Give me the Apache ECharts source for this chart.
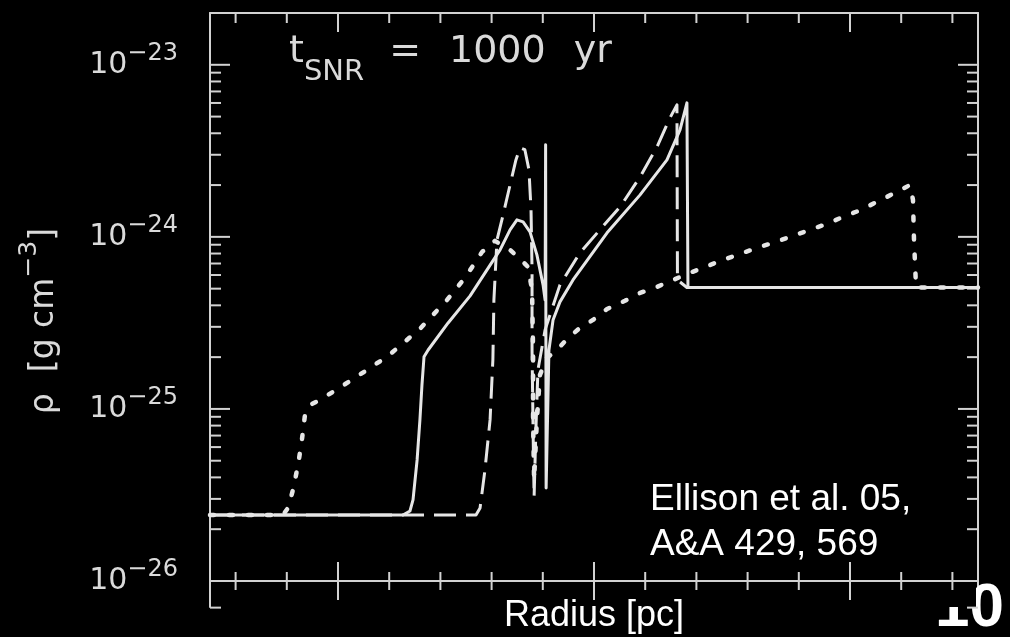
<!DOCTYPE html>
<html>
<head>
<meta charset="utf-8">
<script src="https://cdn.jsdelivr.net/npm/echarts@6/dist/echarts.min.js"></script>
<style>
html,body{margin:0;padding:0;background:#000;}
#chart{width:1010px;height:637px;}
</style>
</head>
<body>
<div id="chart"></div>
<script>
// ---- axis ranges and tick values ----
const X_MIN = 2.5, X_MAX = 5.5;
const Y_MIN = 7.06e-27, Y_MAX = 2.0e-23;
const baseLineValue = 1e-26;
const xMajorTicks = [3, 4, 5];
const xMinorTicks = [2.6, 2.8, 3.2, 3.4, 3.6, 3.8, 4.2, 4.4, 4.6, 4.8, 5.2, 5.4];
const yLabelTicks = [1e-26, 1e-25, 1e-24, 1e-23];
const yMajorTicks = [1e-25, 1e-24, 1e-23];
const yMinorTicks = [7e-27, 1e-26,
  2e-26, 3e-26, 4e-26, 5e-26, 6e-26, 7e-26, 8e-26, 9e-26,
  2e-25, 3e-25, 4e-25, 5e-25, 6e-25, 7e-25, 8e-25, 9e-25,
  2e-24, 3e-24, 4e-24, 5e-24, 6e-24, 7e-24, 8e-24, 9e-24];

// ---- dotted curve ----
const dottedRadius = [2.5, 2.785, 2.805, 2.824, 2.844, 2.859, 2.871, 2.891, 2.930, 3.066, 3.195, 3.320, 3.426, 3.496, 3.563, 3.613, 3.672, 3.711, 3.742, 3.758, 3.762, 3.762, 3.766, 3.777, 3.789, 3.816, 3.855, 3.895, 3.945, 3.996, 4.051, 4.121, 4.180, 4.246, 4.309, 4.375, 4.434, 4.504, 4.570, 4.637, 4.711, 4.777, 4.844, 4.910, 4.973, 5.043, 5.105, 5.168, 5.234, 5.246, 5.25, 5.258, 5.5];
const dottedDensity = [2.42e-26, 2.42e-26, 2.66e-26, 3.38e-26, 4.72e-26, 6.61e-26, 9.23e-26, 1.055e-25, 1.128e-25, 1.514e-25, 2.03e-25, 2.92e-25, 4.30e-25, 5.78e-25, 8.18e-25, 9.48e-25, 8.40e-25, 7.45e-25, 6.69e-25, 4.92e-25, 2.20e-25, 8.63e-26, 3.87e-26, 8.63e-26, 1.578e-25, 1.98e-25, 2.20e-25, 2.55e-25, 2.96e-25, 3.29e-25, 3.81e-25, 4.25e-25, 4.72e-25, 5.12e-25, 5.62e-25, 6.18e-25, 6.69e-25, 7.35e-25, 7.96e-25, 8.63e-25, 9.35e-25, 1.014e-24, 1.099e-24, 1.191e-24, 1.307e-24, 1.435e-24, 1.597e-24, 1.778e-24, 2.00e-24, 1.641e-24, 9.61e-25, 5.08e-25, 5.08e-25];

// ---- solid curve ----
const solidRadius = [2.5, 3.254, 3.281, 3.293, 3.309, 3.320, 3.328, 3.336, 3.352, 3.430, 3.516, 3.582, 3.633, 3.672, 3.699, 3.723, 3.750, 3.777, 3.801, 3.809, 3.811, 3.813, 3.820, 3.824, 3.840, 3.867, 3.918, 4.051, 4.180, 4.285, 4.336, 4.363, 4.367, 5.5];
const solidDensity = [2.42e-26, 2.42e-26, 2.55e-26, 2.96e-26, 5.05e-26, 8.63e-26, 1.379e-25, 2.01e-25, 2.20e-25, 3.16e-25, 4.54e-25, 6.43e-25, 8.40e-25, 1.099e-24, 1.256e-24, 1.222e-24, 1.069e-24, 7.86e-25, 5.26e-25, 4.30e-25, 3.43e-24, 3.47e-26, 1.128e-25, 2.20e-25, 3.29e-25, 4.19e-25, 5.62e-25, 1.055e-24, 1.754e-24, 2.80e-24, 4.19e-24, 6.01e-24, 5.08e-25, 5.08e-25];

// ---- dashed curve ----
const dashedRadius = [2.5, 3.539, 3.555, 3.574, 3.594, 3.605, 3.609, 3.621, 3.645, 3.672, 3.695, 3.711, 3.730, 3.746, 3.754, 3.758, 3.758, 3.762, 3.766, 3.773, 3.781, 3.809, 3.867, 3.945, 4.023, 4.102, 4.180, 4.246, 4.297, 4.324, 4.326, 4.363, 5.5];
const dashedDensity = [2.42e-26, 2.42e-26, 2.66e-26, 4.42e-26, 8.63e-26, 1.927e-25, 4.30e-25, 9.61e-25, 1.343e-24, 2.00e-24, 2.80e-24, 3.29e-24, 3.21e-24, 2.45e-24, 1.435e-24, 6.43e-25, 2.20e-25, 7.55e-26, 3.08e-26, 7.55e-26, 1.686e-25, 2.88e-25, 5.26e-25, 8.07e-25, 1.099e-24, 1.493e-24, 2.23e-24, 3.33e-24, 4.92e-24, 5.85e-24, 5.62e-25, 5.08e-25, 5.08e-25];

// ---- texts ----
const titleParts = { t: 't', sub: 'SNR', eq: '=', num: '1000', unit: 'yr' };
const yAxisTitle = { base: 'ρ  [g cm', sup: '−3', close: ']' };
const xAxisTitle = 'Radius [pc]';
const citation = 'Ellison et al. 05,\nA&A 429, 569';
const pageNumber = '10';

const LINE_COLOR = '#e6e6e6';
const AXIS_COLOR = '#d2d2d2';
const TEXT_COLOR = '#dadada';
const FONT = '"DejaVu Sans", sans-serif';

const zip = (xs, ys) => xs.map((x, i) => [x, ys[i]]);

const chart = echarts.init(document.getElementById('chart'), null, { renderer: 'canvas' });

function yTickRenderer(len) {
  return function (params, api) {
    const v = api.value(1);
    const l = api.coord([X_MIN, v]);
    const r = api.coord([X_MAX, v]);
    const st = { stroke: AXIS_COLOR, lineWidth: 2 };
    return { type: 'group', children: [
      { type: 'line', shape: { x1: l[0], y1: l[1], x2: l[0] + len, y2: l[1] }, style: st },
      { type: 'line', shape: { x1: r[0] - len, y1: r[1], x2: r[0], y2: r[1] }, style: st }
    ] };
  };
}
function xTickRenderer(topLen, crossLen) {
  return function (params, api) {
    const v = api.value(0);
    const t = api.coord([v, Y_MAX]);
    const b = api.coord([v, baseLineValue]);
    const st = { stroke: AXIS_COLOR, lineWidth: 2 };
    return { type: 'group', children: [
      { type: 'line', shape: { x1: t[0], y1: t[1], x2: t[0], y2: t[1] + topLen }, style: st },
      { type: 'line', shape: { x1: b[0], y1: b[1] - crossLen, x2: b[0], y2: b[1] + crossLen }, style: st }
    ] };
  };
}
function baseLineRenderer(params, api) {
  const l = api.coord([X_MIN, api.value(1)]);
  const r = api.coord([X_MAX, api.value(1)]);
  return { type: 'line', shape: { x1: l[0], y1: l[1], x2: r[0], y2: r[1] }, style: { stroke: AXIS_COLOR, lineWidth: 2 } };
}

const richBase = { fontFamily: FONT, color: TEXT_COLOR, fontWeight: 'normal' };
const gRichBase = { fontFamily: FONT, fill: TEXT_COLOR, fontWeight: 'normal' };

const option = {
  backgroundColor: '#000',
  animation: false,
  title: [{
    left: 289, top: 32, padding: 0,
    text: '{t|' + titleParts.t + '}{s|' + titleParts.sub + '}{e|' + titleParts.eq + '}{n|' + titleParts.num + '}{u|' + titleParts.unit + '}',
    textStyle: {
      rich: {
        t: Object.assign({ fontSize: 38, lineHeight: 40 }, richBase),
        s: Object.assign({ fontSize: 29, lineHeight: 30, padding: [40, 0, 0, 0] }, richBase),
        e: Object.assign({ fontSize: 38, lineHeight: 40, padding: [0, 0, 0, 25] }, richBase),
        n: Object.assign({ fontSize: 38, lineHeight: 40, padding: [0, 0, 0, 28] }, richBase),
        u: Object.assign({ fontSize: 38, lineHeight: 40, padding: [0, 0, 0, 28] }, richBase)
      }
    }
  }, {
    left: 650, top: 477, padding: 0,
    text: citation,
    textStyle: { fontFamily: '"Liberation Sans", Arial, sans-serif', fontSize: 37, lineHeight: 45, fontWeight: 'normal', color: '#ffffff' }
  }],
  grid: { left: 210, right: 32, top: 13, bottom: 30, containLabel: false, outerBoundsMode: 'none' },
  xAxis: [{
    type: 'value', min: X_MIN, max: X_MAX, position: 'bottom',
    axisLine: { show: false, onZero: false }, axisTick: { show: false }, axisLabel: { show: false }, splitLine: { show: false },
    name: xAxisTitle, nameLocation: 'middle', nameGap: -9,
    nameTextStyle: { fontFamily: '"Liberation Sans", Arial, sans-serif', fontSize: 36, color: '#ffffff' }
  }, {
    type: 'value', min: X_MIN, max: X_MAX, position: 'top',
    axisLine: { show: true, onZero: false, lineStyle: { color: AXIS_COLOR, width: 2 } },
    axisTick: { show: false }, axisLabel: { show: false }, splitLine: { show: false }
  }],
  yAxis: [{
    type: 'log', logBase: 10, min: Y_MIN, max: Y_MAX, position: 'left',
    axisLine: { show: true, onZero: false, lineStyle: { color: AXIS_COLOR, width: 2 } },
    axisTick: { show: false }, splitLine: { show: false }, minorTick: { show: false },
    axisLabel: {
      show: true, margin: 32, showMinLabel: true, showMaxLabel: true,
      formatter: function (v) {
        const e = Math.round(Math.log10(v));
        const isLabel = yLabelTicks.some(t => Math.abs(Math.log10(t) - Math.log10(v)) < 1e-6);
        if (!isLabel) return '';
        return '{b|10}{s|−' + (-e) + '}';
      },
      rich: {
        b: Object.assign({ fontSize: 30, lineHeight: 30 }, richBase),
        s: Object.assign({ fontSize: 24, lineHeight: 24, padding: [0, 0, 22, 0] }, richBase)
      }
    }
  }, {
    type: 'log', logBase: 10, min: Y_MIN, max: Y_MAX, position: 'right',
    axisLine: { show: true, onZero: false, lineStyle: { color: AXIS_COLOR, width: 2 } },
    axisTick: { show: false }, axisLabel: { show: false }, splitLine: { show: false }
  }],
  graphic: [{
    type: 'text', z: 1, x: 44, y: 321, rotation: Math.PI / 2, silent: true,
    style: {
      text: '{b|' + yAxisTitle.base + '}{s|' + yAxisTitle.sup + '}{b|' + yAxisTitle.close + '}',
      align: 'center', verticalAlign: 'middle', fill: TEXT_COLOR,
      rich: {
        b: Object.assign({ fontSize: 33, lineHeight: 33 }, gRichBase),
        s: Object.assign({ fontSize: 25, lineHeight: 25, padding: [0, 0, 30, 0] }, gRichBase)
      }
    }
  }, {
    type: 'text', z: 1, x: 935, y: 578, silent: true,
    style: { text: pageNumber, fontFamily: '"Liberation Sans", Arial, sans-serif', fontSize: 62, fontWeight: 'bold', fill: '#ffffff' }
  }, {
    type: 'rect', z: 2, silent: true, shape: { x: 920, y: 560, width: 56, height: 47 },
    style: { fill: '#000000' }
  }],
  series: [
    {
      type: 'custom', name: 'baseline', z: 3, silent: true,
      data: [[X_MIN, baseLineValue]], renderItem: baseLineRenderer
    },
    {
      type: 'custom', name: 'yMajor', z: 3, silent: true,
      data: yMajorTicks.map(v => [X_MIN, v]), renderItem: yTickRenderer(20)
    },
    {
      type: 'custom', name: 'yMinor', z: 3, silent: true,
      data: yMinorTicks.map(v => [X_MIN, v]), renderItem: yTickRenderer(11)
    },
    {
      type: 'custom', name: 'xMajor', z: 3, silent: true,
      data: xMajorTicks.map(v => [v, Y_MAX]), renderItem: xTickRenderer(19, 19)
    },
    {
      type: 'custom', name: 'xMinor', z: 3, silent: true,
      data: xMinorTicks.map(v => [v, Y_MAX]), renderItem: xTickRenderer(10, 9)
    },
    {
      type: 'line', name: 'dotted', silent: true, showSymbol: false, symbol: 'none', z: 4,
      data: zip(dottedRadius, dottedDensity),
      lineStyle: { color: LINE_COLOR, width: 4.5, type: [4, 15], cap: 'round', join: 'round' }
    },
    {
      type: 'line', name: 'dashed', silent: true, showSymbol: false, symbol: 'none', z: 4,
      data: zip(dashedRadius, dashedDensity),
      lineStyle: { color: LINE_COLOR, width: 3, type: [22, 10], cap: 'butt', join: 'round' }
    },
    {
      type: 'line', name: 'solid', silent: true, showSymbol: false, symbol: 'none', z: 4,
      data: zip(solidRadius, solidDensity),
      lineStyle: { color: LINE_COLOR, width: 3, type: 'solid', join: 'round' }
    }
  ]
};
chart.setOption(option);
</script>
</body>
</html>
